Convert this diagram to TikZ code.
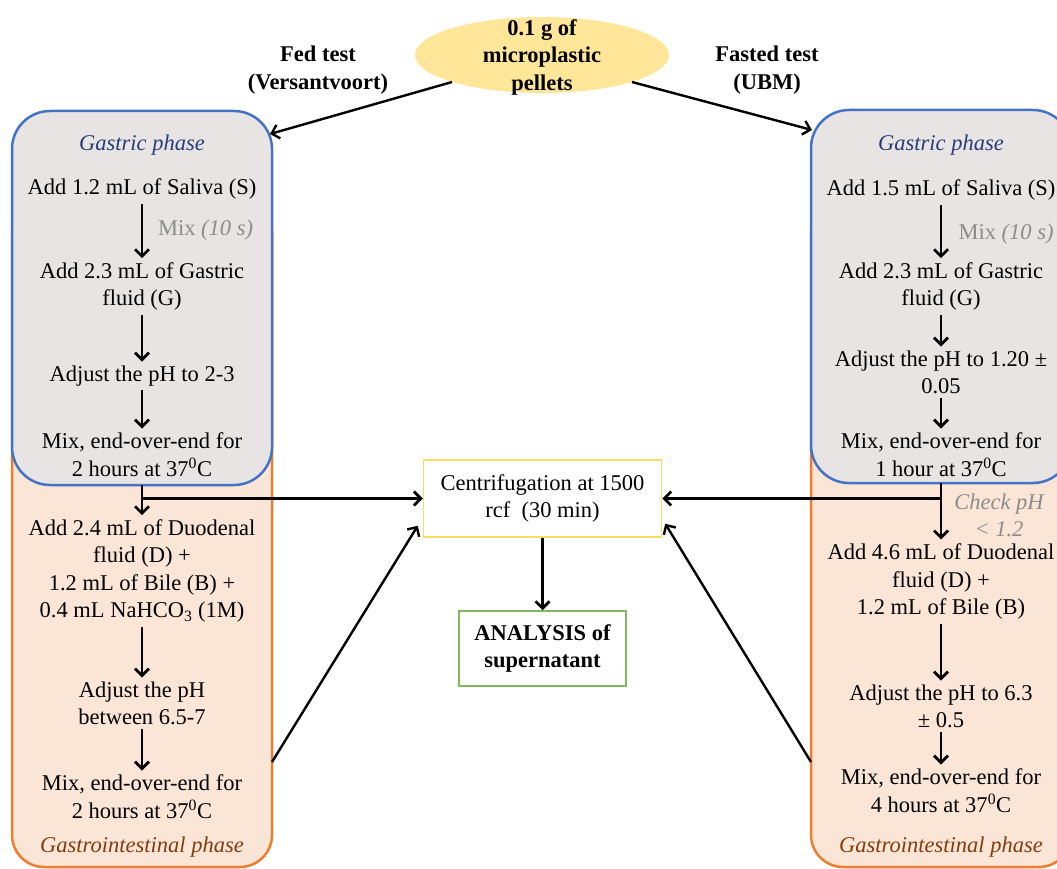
\documentclass[tikz,border=0pt]{standalone}
\usepackage{fontspec}
\setmainfont{Liberation Serif}
\usetikzlibrary{shapes.geometric,arrows.meta}
\definecolor{gfill}{RGB}{232,228,228}
\definecolor{gblue}{RGB}{68,114,196}
\definecolor{ofill}{RGB}{251,229,214}
\definecolor{gorange}{RGB}{237,125,49}
\definecolor{yel}{RGB}{255,230,153}
\definecolor{cyel}{RGB}{255,217,102}
\definecolor{agreen}{RGB}{130,185,95}
\definecolor{gtext}{RGB}{40,60,120}
\definecolor{gitext}{RGB}{132,60,12}
\definecolor{mixgrey}{RGB}{140,140,140}
\begin{document}
\begin{tikzpicture}[x=1pt,y=-1pt,
  font=\fontsize{22.5}{27.5}\selectfont,
  txt/.style={align=center, inner sep=4pt, yshift=-2pt},
  bold/.style={font=\fontsize{22.5}{27.5}\selectfont\bfseries, yshift=-2pt},
  ital/.style={font=\fontsize{22.5}{27.5}\selectfont\itshape},
  phase/.style={rounded corners=38pt, line width=2.5pt, minimum width=260pt, outer sep=0pt},
  gastric/.style={phase, draw=gblue, fill=gfill},
  gibox/.style={phase, rounded corners=32pt, draw=gorange, fill=ofill},
  arr/.style={-{Straight Barb[length=7pt,width=14pt]}, line width=2.8pt},
  darr/.style={-{Straight Barb[length=7pt,width=14pt]}, line width=2.4pt},
]
\useasboundingbox (0,0) rectangle (1057,869);
\clip (0,0) rectangle (1057,869);

% phase boxes
\node[gibox, minimum height=667pt] (lo) at (142,533.5) {};
\node[gastric, minimum height=374pt] (lg) at (142,298) {};
\node[gibox, minimum height=667pt] (ro) at (941,533.5) {};
\node[gastric, minimum height=373pt] (rg) at (941,296.5) {};

% top
\node[ellipse, fill=yel, minimum width=254pt, minimum height=76pt, inner sep=0pt] (ell) at (542,55) {};
\node[bold, align=center] (elltxt) at (542,55) {0.1 g of\\microplastic\\pellets};
\node[bold, align=center] (fed) at (318,68) {Fed test\\(Versantvoort)};
\node[bold, align=center] (fasted) at (767,68) {Fasted test\\(UBM)};

% left column
\node[txt, ital, text=gtext] (lgt) at (142,143) {Gastric phase};
\node[txt] (l1) at (142,187) {Add 1.2 mL of Saliva (S)};
\node[txt] (l2) at (142,284.5) {Add 2.3 mL of Gastric\\fluid (G)};
\node[txt] (l3) at (142,374) {Adjust the pH to 2-3};
\node[txt] (l4) at (142,452.5) {Mix, end-over-end for\\2 hours at 37\textsuperscript{0}C};
\node[txt] (l5) at (142,569) {Add 2.4 mL of Duodenal\\fluid (D) +\\1.2 mL of Bile (B) +\\0.4 mL NaHCO\textsubscript{3} (1M)};
\node[txt] (l6) at (142,701.5) {Adjust the pH\\between 6.5-7};
\node[txt] (l7) at (142,794.5) {Mix, end-over-end for\\2 hours at 37\textsuperscript{0}C};
\node[txt, ital, text=gitext] (lgi) at (142,845) {Gastrointestinal phase};
\node[txt, text=mixgrey] (lmix) at (205.5,228) {Mix \textit{(10 s)}};

% right column
\node[txt, ital, text=gtext] (rgt) at (941,143) {Gastric phase};
\node[txt] (r1) at (941,188) {Add 1.5 mL of Saliva (S)};
\node[txt] (r2) at (941,284.5) {Add 2.3 mL of Gastric\\fluid (G)};
\node[txt] (r3) at (941,370.5) {Adjust the pH to 1.20 ±\\0.05};
\node[txt] (r4) at (941,452.5) {Mix, end-over-end for\\1 hour at 37\textsuperscript{0}C};
\node[txt] (r5) at (941,579.5) {Add 4.6 mL of Duodenal\\fluid (D) +\\1.2 mL of Bile (B)};
\node[txt] (r6) at (941,704.5) {Adjust the pH to 6.3\\± 0.5};
\node[txt] (r7) at (941,788.5) {Mix, end-over-end for\\4 hours at 37\textsuperscript{0}C};
\node[txt, ital, text=gitext] (rgi) at (941,845) {Gastrointestinal phase};
\node[txt, text=mixgrey] (rmix) at (1006,232) {Mix \textit{(10 s)}};
\node[txt, ital, text=mixgrey] (rcheck) at (999,513.5) {Check pH\\< 1.2};

% center
\node[draw=cyel, line width=1.5pt, minimum width=238pt, minimum height=77pt, align=center] (cent) at (542.5,498.5) {Centrifugation at 1500\\rcf\ \ (30 min)};
\node[draw=agreen, line width=1.5pt, minimum width=167pt, minimum height=75pt, bold, yshift=2pt, align=center] (ana) at (542.5,648.5) {ANALYSIS of\\supernatant};

% connectors
\draw[arr] (l1) -- (l2);
\draw[arr] (l2) -- (l3);
\draw[arr] (l3) -- (l4);
\draw[arr] (lg.south) -- (l5);
\draw[arr] (l5) -- (l6);
\draw[arr] (l6) -- (l7);
\draw[arr] (r1) -- (r2);
\draw[arr] (r2) -- (r3);
\draw[arr] (r3) -- (r4);
\draw[arr] (rg.south) -- (r5);
\draw[arr] (r5) -- (r6);
\draw[arr] (r6) -- (r7);
\draw[arr] (lg.south |- cent.west) -- (cent.west);
\draw[arr] (rg.south |- cent.east) -- (cent.east);
\draw[arr] (cent) -- (ana);
\draw[darr] (ell.south west) -- ([xshift=-2pt,yshift=-23pt]lg.north east);
\draw[darr] (ell.south east) -- ([xshift=1pt,yshift=-20pt]rg.north west);
\draw[darr] ([yshift=-228.5pt]lo.east) -- ([xshift=-5pt,yshift=12pt]cent.south west);
\draw[darr] ([yshift=-228.5pt]ro.west) -- ([xshift=3pt,yshift=14pt]cent.south east);
\end{tikzpicture}
\end{document}
